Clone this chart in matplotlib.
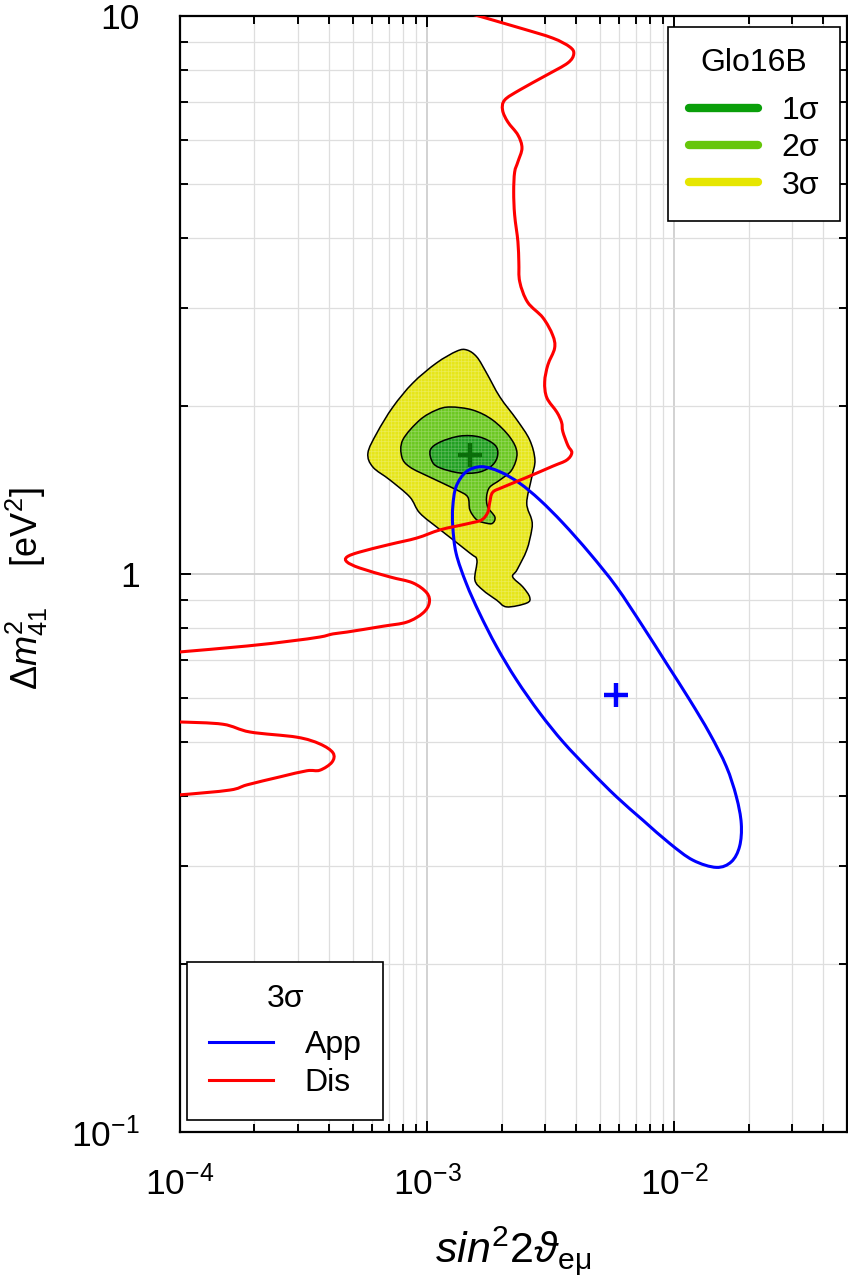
import numpy as np
import matplotlib
matplotlib.use('Agg')
import matplotlib.pyplot as plt
from matplotlib.lines import Line2D
from matplotlib.path import Path
from matplotlib.patches import PathPatch
from matplotlib.ticker import FixedLocator, FixedFormatter, LogLocator, NullFormatter

plt.rcParams['font.family'] = ['Liberation Sans', 'DejaVu Sans']
plt.rcParams['mathtext.fontset'] = 'custom'
plt.rcParams['mathtext.rm'] = 'Liberation Sans'
plt.rcParams['mathtext.it'] = 'Liberation Sans:italic'
plt.rcParams['mathtext.bf'] = 'Liberation Sans:bold'
plt.rcParams['hatch.linewidth'] = 0.5

# ---------------- data ----------------
# Dis 3sigma (main branch)
dis_x = [1.52e-3, 2.37e-3, 3.22e-3, 3.78e-3, 3.92e-3, 3.71e-3, 3.05e-3, 2.37e-3, 2.06e-3, 2.02e-3,
         2.12e-3, 2.33e-3, 2.42e-3, 2.33e-3, 2.26e-3, 2.24e-3, 2.26e-3, 2.33e-3, 2.35e-3, 2.37e-3,
         2.55e-3, 2.94e-3, 3.22e-3, 3.28e-3, 3.08e-3, 2.99e-3, 3.05e-3, 3.35e-3, 3.50e-3, 3.54e-3,
         3.71e-3, 3.85e-3, 3.67e-3, 3.22e-3, 2.53e-3, 2.02e-3, 1.84e-3, 1.79e-3, 1.76e-3,
         1.66e-3, 1.45e-3, 1.13e-3, 9.08e-4, 7.07e-4, 5.34e-4, 4.74e-4, 4.74e-4, 5.34e-4, 7.07e-4,
         8.75e-4, 9.97e-4, 1.02e-3, 9.61e-4, 8.28e-4, 6.62e-4, 4.74e-4, 4.16e-4, 3.68e-4,
         2.78e-4, 1.87e-4, 1.00e-4, 9.0e-5]
dis_y = [10.08, 9.52, 9.13, 8.80, 8.55, 8.24, 7.84, 7.37, 7.07, 6.78,
         6.46, 6.12, 5.80, 5.48, 5.25, 4.84, 4.40, 3.94, 3.62, 3.34,
         3.07, 2.88, 2.68, 2.54, 2.37, 2.21, 2.07, 1.95, 1.87, 1.80,
         1.70, 1.65, 1.60, 1.56, 1.49, 1.43, 1.40, 1.34, 1.29,
         1.25, 1.23, 1.20, 1.16, 1.13, 1.095, 1.073, 1.051, 1.025, 0.988,
         0.964, 0.925, 0.887, 0.851, 0.820, 0.806, 0.787, 0.781, 0.771,
         0.758, 0.743, 0.725, 0.722]

# Dis 3sigma (low-mass island)
dis2_x = [9.0e-5, 1.00e-4, 1.49e-4, 1.92e-4, 2.97e-4, 3.68e-4, 4.16e-4, 4.12e-4, 3.68e-4, 3.26e-4,
          2.54e-4, 1.87e-4, 1.59e-4, 1.00e-4, 9.0e-5]
dis2_y = [0.543, 0.543, 0.538, 0.521, 0.510, 0.496, 0.478, 0.460, 0.445, 0.444,
          0.433, 0.419, 0.410, 0.402, 0.402]

# App 3sigma (closed)
app_x = [1.66e-3, 1.44e-3, 1.31e-3, 1.27e-3, 1.27e-3, 1.31e-3, 1.44e-3, 1.63e-3, 1.91e-3, 2.30e-3,
         2.86e-3, 3.55e-3, 4.55e-3, 5.83e-3, 7.47e-3, 9.58e-3, 1.190e-2, 1.480e-2, 1.702e-2, 1.838e-2,
         1.867e-2, 1.783e-2, 1.624e-2, 1.390e-2, 1.154e-2, 9.29e-3, 7.47e-3, 5.83e-3, 4.55e-3, 3.55e-3,
         2.86e-3, 2.37e-3, 1.97e-3]
app_y = [1.557, 1.525, 1.434, 1.320, 1.216, 1.089, 0.962, 0.850, 0.741, 0.646,
         0.563, 0.500, 0.445, 0.399, 0.362, 0.329, 0.307, 0.298, 0.305, 0.325,
         0.357, 0.399, 0.452, 0.518, 0.595, 0.692, 0.805, 0.949, 1.089, 1.233,
         1.357, 1.454, 1.525]
app_best = (5.80e-3, 0.607)

# Glo16B contours (closed)
g3_x = [1.45e-3, 1.59e-3, 1.74e-3, 1.97e-3, 2.31e-3, 2.60e-3, 2.73e-3, 2.65e-3, 2.53e-3, 2.65e-3,
        2.65e-3, 2.53e-3, 2.31e-3, 2.22e-3, 2.44e-3, 2.60e-3, 2.53e-3, 2.10e-3, 1.91e-3, 1.68e-3,
        1.56e-3, 1.59e-3, 1.49e-3, 1.13e-3, 9.34e-4, 8.51e-4, 7.07e-4, 6.03e-4, 5.76e-4, 6.26e-4,
        7.27e-4, 8.75e-4, 1.09e-3, 1.32e-3]
g3_y = [2.520, 2.448, 2.292, 2.076, 1.888, 1.739, 1.601, 1.49, 1.34, 1.25,
        1.20, 1.104, 1.017, 0.988, 0.948, 0.909, 0.887, 0.873, 0.898, 0.936,
        0.976, 1.059, 1.090, 1.20, 1.286, 1.374, 1.474, 1.555, 1.647, 1.789,
        1.992, 2.199, 2.388, 2.509]
g2_x = [1.24e-3, 1.53e-3, 1.84e-3, 2.16e-3, 2.31e-3, 2.20e-3, 1.97e-3, 1.79e-3, 1.74e-3, 1.76e-3,
        1.88e-3, 1.84e-3, 1.74e-3, 1.59e-3, 1.49e-3, 1.46e-3, 1.32e-3, 1.03e-3, 8.51e-4, 7.90e-4,
        7.97e-4, 9.34e-4, 1.09e-3]
g2_y = [1.992, 1.967, 1.888, 1.760, 1.647, 1.536, 1.474, 1.43, 1.374, 1.318,
        1.265, 1.233, 1.233, 1.25, 1.302, 1.374, 1.414, 1.49, 1.555, 1.621,
        1.739, 1.888, 1.967]
g1_x = [1.03e-3, 1.13e-3, 1.36e-3, 1.63e-3, 1.88e-3, 1.93e-3, 1.84e-3, 1.63e-3, 1.36e-3, 1.13e-3, 1.05e-3]
g1_y = [1.668, 1.724, 1.767, 1.760, 1.703, 1.634, 1.568, 1.523, 1.517, 1.549, 1.588]
glo_best = (1.49e-3, 1.634)

sigma_labels = ['1σ', '2σ', '3σ']
sigma_colors = ['#0a9f0a', '#66c60a', '#e6e600']
fill_colors = ['#22a022', '#6cc822', '#e6e61a']

xticks = [1e-4, 1e-3, 1e-2]
xticklabels = [r'$10^{-4}$', r'$10^{-3}$', r'$10^{-2}$']
yticks = [0.1, 1, 10]
yticklabels = [r'$10^{-1}$', '1', '10']


def smooth_path(xs, ys, closed):
    """Smooth drawing path (Catmull-Rom as cubic Bezier) through the traced points, in log space."""
    pts = np.column_stack([np.log10(xs), np.log10(ys)])
    n = len(pts)
    verts = [pts[0]]
    codes = [Path.MOVETO]
    nseg = n if closed else n - 1
    for i in range(nseg):
        p0 = pts[(i - 1) % n] if closed else pts[max(i - 1, 0)]
        p1 = pts[i % n]
        p2 = pts[(i + 1) % n]
        p3 = pts[(i + 2) % n] if closed else pts[min(i + 2, n - 1)]
        verts += [p1 + (p2 - p0) / 6.0, p2 - (p3 - p1) / 6.0, p2]
        codes += [Path.CURVE4] * 3
    if closed:
        verts.append(pts[0])
        codes.append(Path.CLOSEPOLY)
    return Path(10 ** np.array(verts), codes)


# ---------------- figure ----------------
fig = plt.figure(figsize=(8.48, 12.82), dpi=100)
ax = fig.add_axes([180 / 848, 1 - 1132 / 1282, (847 - 180) / 848, (1132 - 16) / 1282])
ax.set_xscale('log')
ax.set_yscale('log')
ax.set_xlim(1e-4, 5e-2)
ax.set_ylim(0.1, 10)

ax.xaxis.set_major_locator(FixedLocator(xticks))
ax.xaxis.set_major_formatter(FixedFormatter(xticklabels))
ax.yaxis.set_major_locator(FixedLocator(yticks))
ax.yaxis.set_major_formatter(FixedFormatter(yticklabels))
ax.xaxis.set_minor_locator(LogLocator(base=10, subs=range(2, 10), numticks=20))
ax.yaxis.set_minor_locator(LogLocator(base=10, subs=range(2, 10), numticks=20))
ax.xaxis.set_minor_formatter(NullFormatter())
ax.yaxis.set_minor_formatter(NullFormatter())

ax.tick_params(which='both', direction='in', top=True, right=True, width=1.4, colors='black')
ax.tick_params(which='major', length=8)
ax.tick_params(which='minor', length=6)
ax.tick_params(axis='x', which='major', pad=24, labelsize=25.5)
ax.tick_params(axis='y', which='major', pad=29, labelsize=25.5)
for s in ax.spines.values():
    s.set_linewidth(1.6)

ax.grid(True, which='major', color='#cfcfcf', lw=1.3, zorder=0)
ax.grid(True, which='minor', color='#dedede', lw=0.9, zorder=0)
ax.set_axisbelow(True)

# contours (3, 2, 1 sigma)
for cx, cy, fc in [(g3_x, g3_y, fill_colors[2]), (g2_x, g2_y, fill_colors[1]), (g1_x, g1_y, fill_colors[0])]:
    p = smooth_path(cx, cy, True)
    ax.add_patch(PathPatch(p, facecolor=fc, edgecolor=(1, 1, 1, 0.25), hatch='+++++', lw=0, zorder=2))
    ax.add_patch(PathPatch(p, facecolor='none', edgecolor='black', lw=1.1, zorder=3))

ax.add_patch(PathPatch(smooth_path(app_x, app_y, True), facecolor='none', edgecolor='#0000ff',
                       lw=2.2, zorder=4))
ax.add_patch(PathPatch(smooth_path(dis_x, dis_y, False), facecolor='none', edgecolor='#ff0000',
                       lw=2.2, zorder=5))
ax.add_patch(PathPatch(smooth_path(dis2_x, dis2_y, False), facecolor='none', edgecolor='#ff0000',
                       lw=2.2, zorder=5))

ax.plot([glo_best[0]], [glo_best[1]], marker='+', ms=17, mew=3.2, color='#0b6e0b', zorder=6)
ax.plot([app_best[0]], [app_best[1]], marker='+', ms=17, mew=3.2, color='#0000ff', zorder=6)

ax.set_xlabel(r'$\mathit{sin}^2 2\vartheta_{\mathrm{e\mu}}$', fontsize=31)
ax.xaxis.set_label_coords(0.5, -0.083)
ax.set_ylabel(r'$\Delta m^2_{41}$    [eV$^2$]', fontsize=26)
ax.yaxis.set_label_coords(-0.195, 0.487)

# legends
h1 = [Line2D([], [], color=c, lw=6, solid_capstyle='round') for c in sigma_colors]
leg1 = ax.legend(h1, sigma_labels, title='Glo16B', loc='upper right',
                 bbox_to_anchor=(0.9895, 0.990), fontsize=23, title_fontsize=23,
                 frameon=True, fancybox=False, edgecolor='black', framealpha=1,
                 handlelength=2.15, handletextpad=0.75, borderpad=0.65, labelspacing=0.23,
                 borderaxespad=0)
leg1._legend_box.sep = 13.0
leg1.get_frame().set_linewidth(1.2)
leg1.set_zorder(10)
ax.add_artist(leg1)

h2 = [Line2D([], [], color='#0000ff', lw=2.2), Line2D([], [], color='#ff0000', lw=2.2)]
leg2 = ax.legend(h2, ['App', 'Dis'], title='3σ', loc='lower left',
                 bbox_to_anchor=(0.0105, 0.0108), fontsize=23, title_fontsize=23,
                 frameon=True, fancybox=False, edgecolor='black', framealpha=1,
                 handlelength=2.0, handletextpad=1.0, borderpad=0.68, labelspacing=0.26,
                 borderaxespad=0)
leg2._legend_box.sep = 11.5
leg2.get_frame().set_linewidth(1.2)
leg2.set_zorder(10)

fig.savefig('out.png', dpi=100)
